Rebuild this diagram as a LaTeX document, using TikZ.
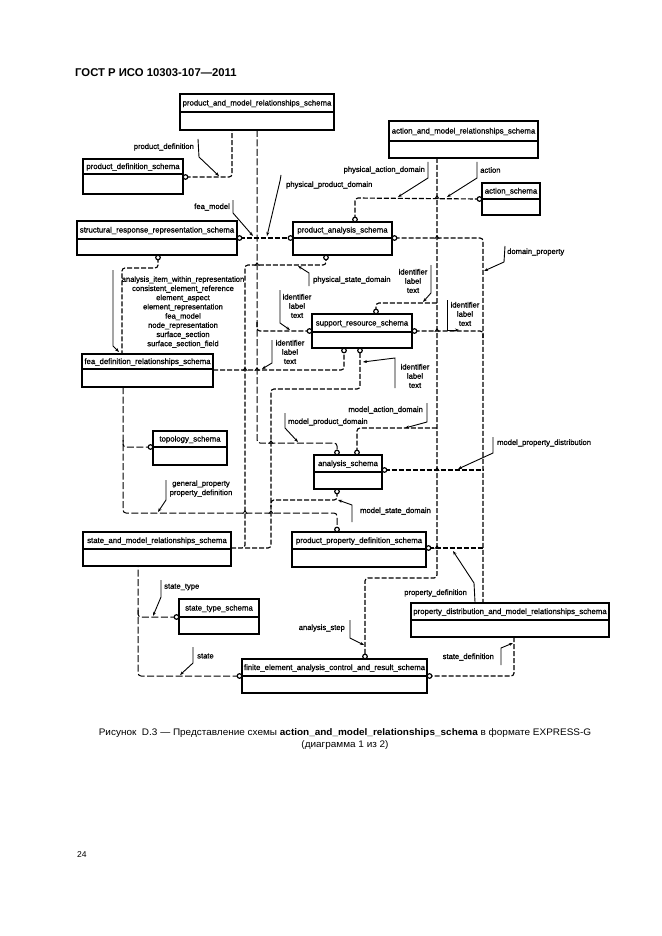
\documentclass[tikz,border=0pt]{standalone}
\usepackage{fontspec}
\setmainfont{Liberation Sans}
\newfontfamily\dfont[FakeBold=0.8]{Liberation Sans}
\usetikzlibrary{arrows.meta,calc}
\newcommand\schema[7]{%
  \node[boxnode, minimum width={(#4-#2)*1pt}, minimum height={(#5-#3)*1pt}] (#1) at (#2,#3) {};
  \draw[divline] (#1.west |- #2,#6) -- (#1.east |- #4,#6);
  \node[ttl] (#1-t) at ({(#2+#4)/2},{(#3+#6)/2+0.5}) {#7};
}
\newcommand\hop[2]{\draw[hopline] ({#1-2.2},{#2+0.8}) -- (#1,{#2-2.2}) -- ({#1+2.2},{#2+0.8});}
\begin{document}
\begin{tikzpicture}[
  x=1pt, y=-1pt,
  boxnode/.style={draw, line width=1.9pt, outer sep=0pt, inner sep=0pt, anchor=north west},
  divline/.style={line width=1.5pt},
  ttl/.style={font=\dfont\fontsize{7.8}{9}\selectfont, inner sep=0pt},
  lbl/.style={font=\dfont\fontsize{7.6}{9.2}\selectfont, inner sep=0pt, align=center},
  conn/.style={line width=1.15pt, dash pattern=on 5pt off 2pt, rounded corners=3pt},
  thinconn/.style={line width=1pt, dash pattern=on 7pt off 2.5pt, rounded corners=3pt},
  ptr/.style={line width=0.9pt, -{Stealth[length=4pt,width=3pt]}},
  circ/.style={circle, draw, line width=1.2pt, fill=white, inner sep=0pt, minimum size=4.6pt},
  hopline/.style={line width=0.8pt},
]
\fill[white] (0,0) rectangle (661,936);
\useasboundingbox (0,0) rectangle (661,936);

% header, caption, page number
\node[anchor=west, inner sep=0pt, font=\bfseries\fontsize{11.3}{13}\selectfont] (hdr) at (75,73) {ГОСТ Р ИСО 10303-107—2011};
\begin{scope}[shift={(345,739)}, xscale=1.05]
\node[transform shape, align=center, inner sep=0pt, font=\fontsize{9.5}{12.5}\selectfont] (cap) at (0,0) {Рисунок~ D.3 — Представление схемы \textbf{action\_and\_model\_relationships\_schema} в формате EXPRESS-G\\(диаграмма 1 из 2)};
\end{scope}
\node[anchor=west, inner sep=0pt, font=\fontsize{8.5}{10}\selectfont] (pg) at (77,855) {24};

% schema boxes
\schema{pmr}{180}{94}{334}{130}{112}{product\_and\_model\_relationships\_schema}
\schema{pds}{83}{159}{183}{194}{174}{product\_definition\_schema}
\schema{amr}{389}{121}{538}{158}{141}{action\_and\_model\_relationships\_schema}
\schema{acs}{482}{183}{540}{215}{199}{action\_schema}
\schema{srr}{77}{221}{237}{255}{239}{structural\_response\_representation\_schema}
\schema{pas}{293}{222}{392}{255}{238}{product\_analysis\_schema}
\schema{sres}{312}{314}{412}{348}{332}{support\_resource\_schema}
\schema{fdr}{82}{354}{213}{387}{369}{fea\_definition\_relationships\_schema}
\schema{tps}{153}{431}{227}{465}{447}{topology\_schema}
\schema{ans}{314}{455}{382}{489}{472}{analysis\_schema}
\schema{smr}{83}{532}{231}{566}{549}{state\_and\_model\_relationships\_schema}
\schema{ppd}{292}{532}{426}{567}{549}{product\_property\_definition\_schema}
\schema{sts}{179}{599}{259}{634}{617}{state\_type\_schema}
\schema{pdm}{411}{603}{609}{637}{620}{property\_distribution\_and\_model\_relationships\_schema}
\schema{fea}{242}{659}{427}{693}{676}{finite\_element\_analysis\_control\_and\_result\_schema}

% circle positions
\coordinate (p_pds) at (185.5,177);
\coordinate (p_srr_r) at (239.5,238);
\coordinate (p_pas_l) at (290.5,238);
\coordinate (p_pas_t) at (355,219.5);
\coordinate (p_acs_l) at (479.5,199);
\coordinate (p_pas_r) at (394.5,238);
\coordinate (p_pas_b) at (326,257.5);
\coordinate (p_srr_b) at (158,257.5);
\coordinate (p_sres_l) at (309.5,331);
\coordinate (p_sres_t) at (376,311.5);
\coordinate (p_sres_r) at (414.5,331);
\coordinate (p_sres_b1) at (344,350.5);
\coordinate (p_sres_b2) at (360,350.5);
\coordinate (p_tps_l) at (150.5,447);
\coordinate (p_ans_t1) at (337,452.5);
\coordinate (p_ans_t2) at (357,452.5);
\coordinate (p_ans_r) at (384.5,470);
\coordinate (p_ans_b) at (337,491.5);
\coordinate (p_ppd_t) at (337,529.5);
\coordinate (p_ppd_r) at (428.5,548);
\coordinate (p_sts_l) at (176.5,617);
\coordinate (p_fea_t) at (365,656.5);
\coordinate (p_fea_l) at (239.5,676);
\coordinate (p_fea_r) at (429.5,676);

% connectors
\draw[conn] (p_pds) -- (232,177) -- (pmr.south -| 232,0);
\draw[thinconn] (pmr.south -| 257,0) -- (257,443) -- (337,443) -- (p_ans_t1);
\draw[conn] (p_srr_r) -- (p_pas_l);
\draw[conn] (257,322) -- (257,331) -- (p_sres_l);
\draw[conn] (p_pas_t) -- (355,198) -- (p_acs_l);
\draw[conn] (amr.south -| 437,0) -- (437,578) -- (365,578) -- (p_fea_t);
\draw[conn] (p_sres_t) -- (376,303) -- (437,303);
\draw[conn] (p_ans_t2) -- (357,428) -- (437,428);
\draw[conn] (p_pas_r) -- (483,238) -- (pdm.north -| 483,0);
\draw[conn] (p_sres_r) -- (483,331) -- (483,338);
\draw[conn] (p_ans_r) -- (483,470);
\draw[conn] (p_ppd_r) -- (483,548);
\draw[conn] (pdm.south -| 514,0) -- (514,676) -- (p_fea_r);
\draw[thinconn] (p_fea_l) -- (138,676) -- (smr.south -| 138,0);
\draw[thinconn] (138,610) -- (138,617) -- (p_sts_l);
\draw[conn] (p_srr_b) -- (158,268) -- (122,268) -- (fdr.north -| 122,0);
\draw[conn] (fdr.east |- 0,370) -- (344,370) -- (p_sres_b1);
\draw[thinconn] (fdr.south -| 123,0) -- (123,513) -- (337,513) -- (p_ppd_t);
\draw[thinconn] (123,440) -- (123,447) -- (p_tps_l);
\draw[conn] (smr.east |- 0,548) -- (245,548) -- (245,265) -- (326,265) -- (p_pas_b);
\draw[conn] (245,548) -- (271,548) -- (271,389) -- (360,389) -- (p_sres_b2);
\draw[conn] (p_ans_b) -- (337,500) -- (271,500) -- (271,507);

% crossing marks
\hop{437}{198}\hop{437}{238}\hop{437}{331}\hop{437}{470}\hop{437}{548}
\hop{257}{265}\hop{257}{370}\hop{245}{370}\hop{271}{443}\hop{245}{513}\hop{271}{513}

% circles
\foreach \c in {pds,srr_r,pas_l,pas_t,acs_l,pas_r,pas_b,srr_b,sres_l,sres_t,sres_r,sres_b1,sres_b2,tps_l,ans_t1,ans_t2,ans_r,ans_b,ppd_t,ppd_r,sts_l,fea_t,fea_l,fea_r}
  \node[circ] (c_\c) at (p_\c) {};

% labels and pointers
\node[lbl, anchor=east] (l1) at (194,147) {product\_definition};
\draw[ptr] (198,139) -- (199,157) -- (219,176);
\node[lbl, anchor=east] (l2) at (230,207) {fea\_model};
\draw[ptr] (233,200) -- (233,213) -- (253,236);
\node[lbl, anchor=west] (l3) at (286,185) {physical\_product\_domain};
\draw[ptr] (281,175) -- (280,181) -- (267,236);
\node[lbl, anchor=east] (l4) at (425,170) {physical\_action\_domain};
\draw[ptr] (428,162) -- (428,178) -- (398,197);
\node[lbl, anchor=west] (l5) at (480,170) {action};
\draw[ptr] (477,162) -- (477,178) -- (447,197);
\node[lbl, anchor=west] (l6) at (507,252) {domain\_property};
\draw[ptr] (505,246) -- (504,262) -- (484,271);
\node[lbl, anchor=west] (l7) at (313,280) {physical\_state\_domain};
\draw[ptr] (309,286) -- (309,273) -- (298,266);
\node[lbl] (l8) at (297,306) {identifier\\label\\text};
\draw[ptr] (280,290) -- (280,323) -- (290,330);
\node[lbl] (l9) at (413,281) {identifier\\label\\text};
\draw[ptr] (431,265) -- (431,293) -- (423,302);
\node[lbl] (l10) at (465,314) {identifier\\label\\text};
\draw[ptr] (447,300) -- (447,330) -- (459,330);
\node[lbl] (l11) at (290,352) {identifier\\label\\text};
\draw[ptr] (272,340) -- (272,363) -- (262,369);
\node[lbl] (l12) at (415,376) {identifier\\label\\text};
\draw[ptr] (395,388) -- (395,358) -- (363,362);
\node[lbl] (l13) at (183,312) {analysis\_item\_within\_representation\\consistent\_element\_reference\\element\_aspect\\element\_representation\\fea\_model\\node\_representation\\surface\_section\\surface\_section\_field};
\draw[ptr] (113,270) -- (113,346) -- (119,352);
\node[lbl, anchor=east] (l14) at (423,410) {model\_action\_domain};
\draw[ptr] (427,403) -- (427,422) -- (405,428);
\node[lbl, anchor=west] (l15) at (288,422) {model\_product\_domain};
\draw[ptr] (285,413) -- (285,428) -- (298,442);
\node[lbl, anchor=west] (l16) at (497,443) {model\_property\_distribution};
\draw[ptr] (493,437) -- (493,453) -- (458,469);
\node[lbl, anchor=west] (l17) at (360,511) {model\_state\_domain};
\draw[ptr] (352,522) -- (352,505) -- (338,500);
\node[lbl] (l18) at (201,488.5) {general\_property\\property\_definition};
\draw[ptr] (166,480) -- (166,500) -- (158,512);
\node[lbl, anchor=east] (l19) at (467,593) {property\_definition};
\draw[ptr] (475,602) -- (474,583) -- (453,551);
\node[lbl, anchor=west] (l20) at (164,587) {state\_type};
\draw[ptr] (161,580) -- (161,597) -- (153,616);
\node[lbl, anchor=west] (l21) at (197,656) {state};
\draw[ptr] (193,647) -- (193,663) -- (180,675);
\node[lbl, anchor=east] (l22) at (345,628) {analysis\_step};
\draw[ptr] (350,620) -- (350,638) -- (364,645);
\node[lbl, anchor=east] (l23) at (494,657) {state\_definition};
\draw[ptr] (501,665) -- (501,648) -- (513,643);
\end{tikzpicture}
\end{document}
